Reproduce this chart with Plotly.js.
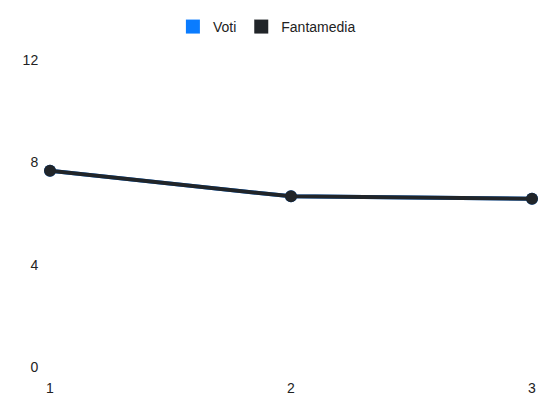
<!DOCTYPE html>
<html>
<head>
<meta charset="utf-8">
<script src="https://cdn.plot.ly/plotly-3.0.1.min.js"></script>
<style>
  html, body { margin: 0; padding: 0; background: #fff; }
  #chart { width: 550px; height: 412px; }
</style>
</head>
<body>
<div id="chart"></div>
<script>
var giornate = [1, 2, 3];
var voti = [7.67, 6.67, 6.58];
var fantamedia = [7.67, 6.67, 6.58];
var y_ticks = [0, 4, 8, 12];

var blue = '#0a7cff';
var dark = '#212529';

function line_trace(name, values, color) {
  return {
    x: giornate,
    y: values,
    name: name,
    type: 'scatter',
    mode: 'lines+markers',
    line: {color: color, width: 4},
    marker: {color: color, size: 12},
    cliponaxis: false,
    showlegend: false,
    hoverinfo: 'x+y'
  };
}

// legend-only entries so the key shows plain squares
function legend_trace(name, color) {
  return {
    x: [null],
    y: [null],
    name: name,
    type: 'scatter',
    mode: 'markers',
    marker: {color: color, size: 14, symbol: 'square'},
    showlegend: true
  };
}

var traces = [
  line_trace('Voti', voti, blue),
  line_trace('Fantamedia', fantamedia, dark),
  legend_trace('Voti', blue),
  legend_trace('Fantamedia', dark)
];

var plot_layout = {
  width: 550,
  height: 412,
  margin: {l: 50, r: 18, t: 59, b: 45},
  paper_bgcolor: '#fff',
  plot_bgcolor: '#fff',
  font: {family: 'Liberation Sans, Arial, sans-serif', size: 14, color: '#222'},
  showlegend: true,
  legend: {
    orientation: 'h',
    x: 0.45,
    xanchor: 'center',
    y: 1.104,
    yanchor: 'middle',
    font: {size: 14, color: '#222'}
  },
  xaxis: {
    tickvals: giornate,
    ticktext: giornate.map(String),
    range: [1, 3],
    showgrid: false,
    zeroline: false,
    showline: false,
    ticks: 'outside',
    ticklen: 8,
    tickcolor: 'rgba(0,0,0,0)',
    tickfont: {size: 14}
  },
  yaxis: {
    range: [0, 12],
    tickvals: y_ticks,
    showgrid: false,
    zeroline: false,
    showline: false,
    ticks: 'outside',
    ticklen: 8,
    tickcolor: 'rgba(0,0,0,0)',
    tickfont: {size: 14}
  },
  hovermode: 'closest'
};

Plotly.newPlot('chart', traces, plot_layout, {displaylogo: false, displayModeBar: false});
</script>
</body>
</html>
